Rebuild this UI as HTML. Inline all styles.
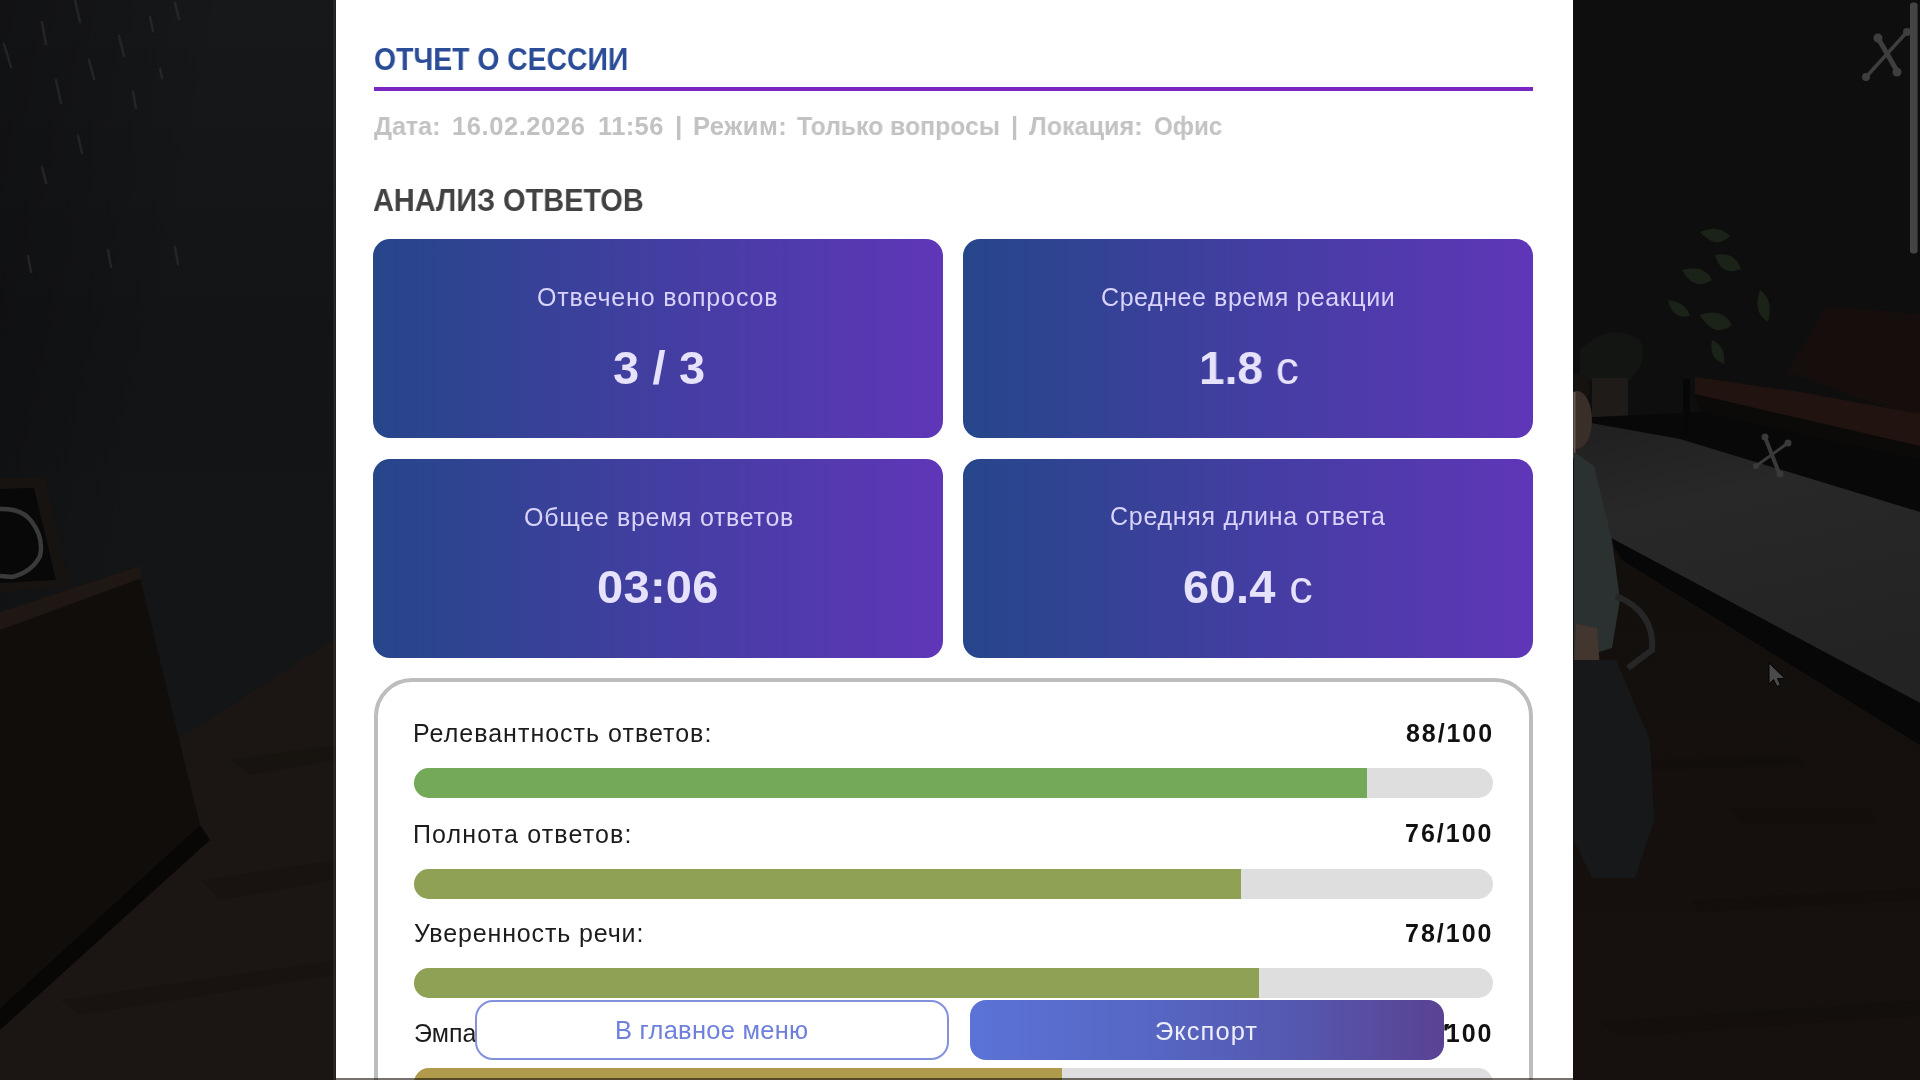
<!DOCTYPE html>
<html lang="ru">
<head>
<meta charset="utf-8">
<title>Отчет о сессии</title>
<style>
*{margin:0;padding:0;box-sizing:border-box;}
html,body{width:1920px;height:1080px;overflow:hidden;background:#151515;font-family:"Liberation Sans",sans-serif;}
#scene{position:absolute;left:0;top:0;width:1920px;height:1080px;}
#panel{position:absolute;left:336px;top:0;width:1237.4px;height:1080px;background:#fff;}
.t{position:absolute;white-space:nowrap;transform-origin:0 0;will-change:transform;}
.hr{position:absolute;left:373.6px;top:87px;width:1159.4px;height:4.3px;background:#7a27c2;}
.card{position:absolute;width:570px;height:199.5px;border-radius:17px;background:linear-gradient(90deg,#26468a 0%,#5f36b8 100%);}
.box{position:absolute;left:373.5px;top:678px;width:1159.2px;height:600px;border:4.3px solid #bdbdbd;border-radius:38px;}
.bar{position:absolute;left:414px;width:1078.5px;height:30px;border-radius:15px;background:#dedede;overflow:hidden;}
.bar i{position:absolute;left:0;top:0;height:30px;display:block;}
.btn{position:absolute;top:1000.4px;height:59.6px;z-index:5;}
.btn1{left:475.4px;width:474px;border:2px solid #8391dd;border-radius:18px;background:#fff;}
.btn2{left:970.4px;width:474px;border-radius:16px;background:linear-gradient(90deg,#5b73d7 0%,#5666c2 40%,#5557ae 70%,#5a4293 100%);}
</style>
</head>
<body>
<svg id="scene" width="1920" height="1080" viewBox="0 0 1920 1080">
  <defs>
    <linearGradient id="wallL" x1="0" y1="0" x2="0" y2="1">
      <stop offset="0" stop-color="#17181a"/><stop offset="0.3" stop-color="#131416"/><stop offset="0.65" stop-color="#141517"/><stop offset="1" stop-color="#141517"/>
    </linearGradient>
    <linearGradient id="wallShade" x1="0" y1="0" x2="1" y2="0.4">
      <stop offset="0" stop-color="#000" stop-opacity="0.25"/><stop offset="0.6" stop-color="#000" stop-opacity="0"/>
    </linearGradient>
    <linearGradient id="rugG" x1="0" y1="0" x2="0.3" y2="1">
      <stop offset="0" stop-color="#1f1f1f"/><stop offset="0.35" stop-color="#282828"/><stop offset="1" stop-color="#232323"/>
    </linearGradient>
    <linearGradient id="floorR" x1="0" y1="0" x2="0" y2="1">
      <stop offset="0" stop-color="#130f0c"/><stop offset="1" stop-color="#16110e"/>
    </linearGradient>
  </defs>
  <rect width="1920" height="1080" fill="#111"/>
  <!-- ===== left ===== -->
  <rect x="0" y="0" width="336" height="1080" fill="url(#wallL)"/>
  <rect x="0" y="0" width="336" height="700" fill="url(#wallShade)"/>
  <g stroke="#3a3a3a" stroke-width="2.5" stroke-linecap="round" opacity="0.45"><path d="M75,0 L80,22 M42,22 L46,44 M4,44 L11,67 M119,36 L124,56 M89,60 L94,79 M56,80 L61,103 M78,136 L82,153 M42,167 L46,183 M150,17 L153,31 M175,3 L179,19 M160,69 L162,78 M133,92 L136,108 M108,250 L111,267 M175,247 L178,264 M28,256 L31,272"/></g>
  <!-- floor -->
  <polygon points="336,638 185,735 0,860 0,1080 336,1080" fill="#1b1613"/>
  <g fill="#15110e" opacity="0.45">
    <polygon points="230,760 336,745 336,760 250,775"/>
    <polygon points="200,880 336,860 336,880 220,900"/>
    <polygon points="60,1000 336,960 336,975 80,1015"/>
  </g>
  <!-- picture frame -->
  <polygon points="0,478 45,478 70,587 0,592" fill="#171311"/>
  <polygon points="0,489 34,488 56,580 0,583" fill="#080808"/>
  <path d="M0,509 Q22,508 32,522 Q44,538 40,556 Q32,572 12,577 L0,576" stroke="#3a3a3a" stroke-width="4.5" fill="none"/>
  <!-- cabinet -->
  <polygon points="0,625 138,570 200,825 0,1008" fill="#110d0b"/>
  <polygon points="0,612 140,566 142,578 0,630" fill="#1e1713"/>
  <polygon points="0,1008 200,825 210,840 0,1030" fill="#090706"/>
  <rect x="333.5" y="0" width="2" height="1080" fill="#2c2b2a"/>
  <!-- ===== right ===== -->
  <rect x="1574" y="0" width="346" height="1080" fill="#0e0e0e"/>
  <!-- wall-floor darker band -->
  
  <!-- plants -->
  <g fill="#1b2218">
    <path d="M1700,232 q18,-8 30,4 q-14,14 -30,-4z"/>
    <path d="M1715,255 q20,-4 26,14 q-20,8 -26,-14z"/>
    <path d="M1682,270 q22,-6 30,10 q-18,12 -30,-10z"/>
    <path d="M1760,290 q14,10 8,32 q-16,-10 -8,-32z"/>
    <path d="M1700,315 q22,-8 32,10 q-18,14 -32,-10z"/>
    <path d="M1712,340 q14,6 12,24 q-16,-6 -12,-24z"/>
    <path d="M1668,300 q18,2 22,16 q-18,4 -22,-16z"/>
  </g>
  <g fill="#121511">
    <path d="M1580,350 q30,-30 60,-10 q10,20 -10,40 l-50,0z"/>
  </g>
  <rect x="1592" y="378" width="36" height="40" fill="#1f1b18"/>
  <!-- sofa back -->
  <polygon points="1827,306 1920,314 1920,420 1787,372" fill="#150e0c"/>
  <!-- sofa seat -->
  <polygon points="1695,377 1800,392 1920,414 1920,446 1800,420 1695,394" fill="#211410"/>
  <polygon points="1695,394 1920,446 1920,460 1700,412" fill="#0c0a09"/>
  <!-- under sofa shadow -->
  <polygon points="1574,418 1700,412 1920,460 1920,513" fill="#080808"/>
  <rect x="1683" y="379" width="7" height="58" fill="#070707"/>
  <!-- right floor -->
  <polygon points="1574,530 1920,715 1920,1080 1574,1080" fill="url(#floorR)"/>
  <g fill="#110d0b" opacity="0.45">
    <polygon points="1728,808 1870,808 1880,824 1742,824"/>
    <polygon points="1600,1022 1920,1000 1920,1016 1620,1037"/>
    <polygon points="1690,900 1920,888 1920,900 1700,912"/>
    <polygon points="1640,760 1800,755 1805,765 1650,770"/>
  </g>
  <!-- rug -->
  <polygon points="1574,420 1680,439 1920,512 1920,703 1609,537 1574,527" fill="url(#rugG)"/>
  <polygon points="1609,537 1920,703 1920,745 1622,560" fill="#070707"/>
  <!-- bones on rug -->
  <g stroke="#3a3a3a" stroke-linecap="round" fill="#3a3a3a">
    <path d="M1765,437 L1779,473" stroke-width="4"/>
    <path d="M1788,443 L1756,466" stroke-width="3"/>
    <circle cx="1765" cy="437" r="3.5" stroke="none"/>
    <circle cx="1780" cy="474" r="3.5" stroke="none"/>
    <circle cx="1788" cy="443" r="3.5" stroke="none"/>
    <circle cx="1756" cy="466" r="3" stroke="none"/>
  </g>
  <!-- bones top right -->
  <g stroke="#3e3e3e" stroke-linecap="round" fill="#3e3e3e">
    <path d="M1878,38 L1897,71" stroke-width="5"/>
    <path d="M1907,32 L1866,77" stroke-width="3.5"/>
    <circle cx="1878" cy="38" r="4.5" stroke="none"/>
    <circle cx="1897" cy="72" r="4.5" stroke="none"/>
    <circle cx="1907" cy="32" r="4" stroke="none"/>
    <circle cx="1866" cy="77" r="4" stroke="none"/>
  </g>
  <!-- person -->
  <ellipse cx="1576" cy="388" rx="14" ry="14" fill="#151210"/>
  <ellipse cx="1577" cy="420" rx="15" ry="29" fill="#3a2e29"/>
  <rect x="1573.5" y="392" width="2" height="66" fill="#6a5650"/>
  <polygon points="1574,452 1594,466 1612,540 1620,600 1612,648 1574,660" fill="#2b3030"/>
  <polygon points="1576,624 1597,628 1600,668 1585,672 1574,668" fill="#43362f"/>
  <polygon points="1574,660 1616,660 1650,740 1654,820 1635,878 1592,878 1574,840" fill="#171819"/>
  <path d="M1616,596 Q1655,612 1652,650 L1628,668" stroke="#262626" stroke-width="6" fill="none"/>
  <!-- scrollbar -->
  <rect x="1910" y="2.6" width="7.6" height="251" rx="3" fill="#444"/>
  <!-- cursor -->
  <polygon points="1769,663 1769,684 1773.5,679.5 1777,686.5 1780.5,685 1777.5,678.5 1785,678.5" fill="#4a4a4a" stroke="#050505" stroke-width="1"/>
</svg>
<div id="panel"></div>
<div class="hr"></div>
<div class="card" style="left:373.4px;top:238.5px;"></div>
<div class="card" style="left:963px;top:238.5px;"></div>
<div class="card" style="left:373.4px;top:458.8px;"></div>
<div class="card" style="left:963px;top:458.8px;"></div>
<div class="box"></div>
<div class="bar" style="top:768px;"><i style="width:952.5px;background:#74aa57;"></i></div>
<div class="bar" style="top:868.7px;"><i style="width:826.5px;background:#8fa154;"></i></div>
<div class="bar" style="top:967.8px;"><i style="width:844.5px;background:#8fa154;"></i></div>
<div class="bar" style="top:1067.9px;"><i style="width:648.2px;background:#b09a4c;"></i></div>
<div id="clipbottom" style="position:absolute;left:336px;top:1078px;width:1238px;height:2px;background:rgba(25,18,12,0.6);z-index:20;"></div>
<div class="btn btn1"></div>
<div class="btn btn2"></div>
<svg style="position:absolute;left:1440px;top:1018px;z-index:6" width="14" height="16" viewBox="1440 1018 14 16"><polygon points="1444.4,1030.5 1444.4,1025 1445.6,1024 1449.2,1024 1446.6,1030.5" fill="#111"/></svg>
<div class="t" style="left:373.81px;top:43px;font-size:32px;line-height:32px;font-weight:bold;color:#2b4c96;transform:scaleX(0.8852);">ОТЧЕТ О СЕССИИ</div>
<div class="t" style="left:373.6px;top:114px;font-size:25.5px;line-height:25.5px;font-weight:bold;color:#c2c2c2;transform:scaleX(0.9862);">Дата:</div>
<div class="t" style="left:452.4px;top:114px;font-size:25.5px;line-height:25.5px;font-weight:bold;color:#c2c2c2;letter-spacing:0.578px;">16.02.2026</div>
<div class="t" style="left:598.2px;top:114px;font-size:25.5px;line-height:25.5px;font-weight:bold;color:#c2c2c2;letter-spacing:0.375px;">11:56</div>
<div class="t" style="left:674.73px;top:114px;font-size:25.5px;line-height:25.5px;font-weight:bold;color:#c2c2c2;transform:scaleX(1.0333);">|</div>
<div class="t" style="left:692.5px;top:114px;font-size:25.5px;line-height:25.5px;font-weight:bold;color:#c2c2c2;letter-spacing:0.500px;">Режим:</div>
<div class="t" style="left:797.1px;top:114px;font-size:25.5px;line-height:25.5px;font-weight:bold;color:#c2c2c2;transform:scaleX(0.9710);">Только вопросы</div>
<div class="t" style="left:1010.77px;top:114px;font-size:25.5px;line-height:25.5px;font-weight:bold;color:#c2c2c2;transform:scaleX(0.9667);">|</div>
<div class="t" style="left:1029.4px;top:114px;font-size:25.5px;line-height:25.5px;font-weight:bold;color:#c2c2c2;transform:scaleX(0.9858);">Локация:</div>
<div class="t" style="left:1153.95px;top:114px;font-size:25.5px;line-height:25.5px;font-weight:bold;color:#c2c2c2;transform:scaleX(0.9479);">Офис</div>
<div class="t" style="left:373.0px;top:184px;font-size:32px;line-height:32px;font-weight:bold;color:#424242;transform:scaleX(0.9030);">АНАЛИЗ ОТВЕТОВ</div>
<div class="t" style="left:536.9px;top:285px;font-size:25px;line-height:25px;font-weight:normal;color:#d9d3fb;letter-spacing:0.863px;">Отвечено вопросов</div>
<div class="t" style="left:1101.2px;top:285px;font-size:25px;line-height:25px;font-weight:normal;color:#d9d3fb;letter-spacing:0.577px;">Среднее время реакции</div>
<div class="t" style="left:523.7px;top:505px;font-size:25px;line-height:25px;font-weight:normal;color:#d9d3fb;letter-spacing:0.694px;">Общее время ответов</div>
<div class="t" style="left:1109.8px;top:504px;font-size:25px;line-height:25px;font-weight:normal;color:#d9d3fb;letter-spacing:0.711px;">Средняя длина ответа</div>
<div class="t" style="left:612.75px;top:344px;font-size:47px;line-height:47px;font-weight:bold;color:#e7e2fb;letter-spacing:0.162px;">3 / 3</div>
<div class="t" style="left:1198.66px;top:344px;font-size:47px;line-height:47px;font-weight:bold;color:#e7e2fb;transform:scaleX(0.9786);">1.8 <span style="font-weight:normal">с</span></div>
<div class="t" style="left:597.0px;top:563px;font-size:47px;line-height:47px;font-weight:bold;color:#e7e2fb;letter-spacing:0.300px;">03:06</div>
<div class="t" style="left:1183.0px;top:563px;font-size:47px;line-height:47px;font-weight:bold;color:#e7e2fb;letter-spacing:0.340px;">60.4 <span style="font-weight:normal">с</span></div>
<div class="t" style="left:413.4px;top:721px;font-size:25px;line-height:25px;font-weight:normal;color:#1c1c1c;letter-spacing:1.010px;">Релевантность ответов:</div>
<div class="t" style="left:412.8px;top:822px;font-size:25px;line-height:25px;font-weight:normal;color:#1c1c1c;letter-spacing:1.140px;">Полнота ответов:</div>
<div class="t" style="left:413.8px;top:921px;font-size:25px;line-height:25px;font-weight:normal;color:#1c1c1c;letter-spacing:0.863px;">Уверенность речи:</div>
<div class="t" style="left:413.8px;top:1021px;font-size:25px;line-height:25px;font-weight:normal;color:#1c1c1c;">Эмпатия:</div>
<div class="t" style="left:1405.5px;top:721px;font-size:25px;line-height:25px;font-weight:bold;color:#111111;letter-spacing:1.920px;">88/100</div>
<div class="t" style="left:1405.2px;top:821px;font-size:25px;line-height:25px;font-weight:bold;color:#111111;letter-spacing:2.000px;">76/100</div>
<div class="t" style="left:1405.2px;top:921px;font-size:25px;line-height:25px;font-weight:bold;color:#111111;letter-spacing:2.000px;">78/100</div>
<div class="t" style="left:1405.2px;top:1021px;font-size:25px;line-height:25px;font-weight:bold;color:#111111;letter-spacing:2.000px;">65/100</div>
<div class="t" style="z-index:10;left:614.6px;top:1018px;font-size:25.5px;line-height:25.5px;font-weight:normal;color:#6e80dc;letter-spacing:0.246px;">В главное меню</div>
<div class="t" style="z-index:10;left:1154.9px;top:1019px;font-size:25.5px;line-height:25.5px;font-weight:normal;color:#eeedfb;letter-spacing:1.033px;">Экспорт</div>
</body>
</html>
